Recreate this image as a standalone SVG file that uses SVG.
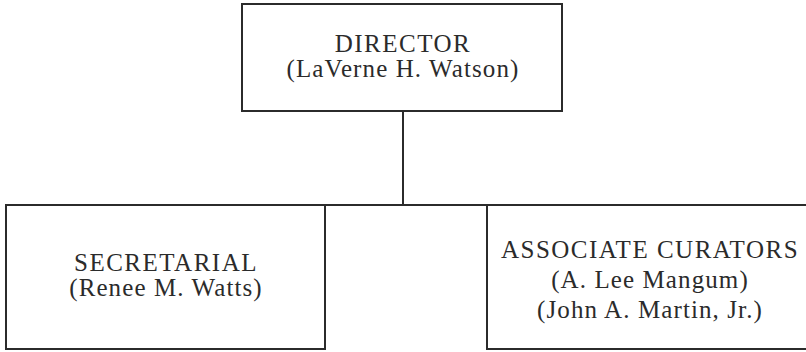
<svg xmlns="http://www.w3.org/2000/svg" width="806" height="352" viewBox="0 0 806 352">
<style>
.box{fill:none;stroke:#2b2b2b;stroke-width:2}
.conn{fill:none;stroke:#2b2b2b;stroke-width:2}
text{font-family:"Liberation Serif","Times New Roman",serif;font-size:25px;fill:#2b2b2b;text-anchor:middle;letter-spacing:1.1px}
.cap{letter-spacing:1.5px}
</style>
<rect width="806" height="352" fill="#ffffff"/>
<g id="connectors">
<line class="conn" x1="403" y1="111" x2="403" y2="205"/>
<line class="conn" x1="325" y1="205" x2="487" y2="205"/>
</g>
<g id="director">
<rect class="box" x="242" y="4" width="320" height="107"/>
<text class="cap" x="403" y="52">DIRECTOR</text>
<text x="403" y="77">(LaVerne H. Watson)</text>
</g>
<g id="secretarial">
<rect class="box" x="6" y="205" width="319" height="144"/>
<text class="cap" x="166" y="271">SECRETARIAL</text>
<text x="166" y="296">(Renee M. Watts)</text>
</g>
<g id="associate-curators">
<rect class="box" x="487" y="205" width="325" height="144"/>
<text class="cap" x="650" y="258">ASSOCIATE CURATORS</text>
<text x="650" y="288">(A. Lee Mangum)</text>
<text x="650" y="318">(John A. Martin, Jr.)</text>
</g>
</svg>
